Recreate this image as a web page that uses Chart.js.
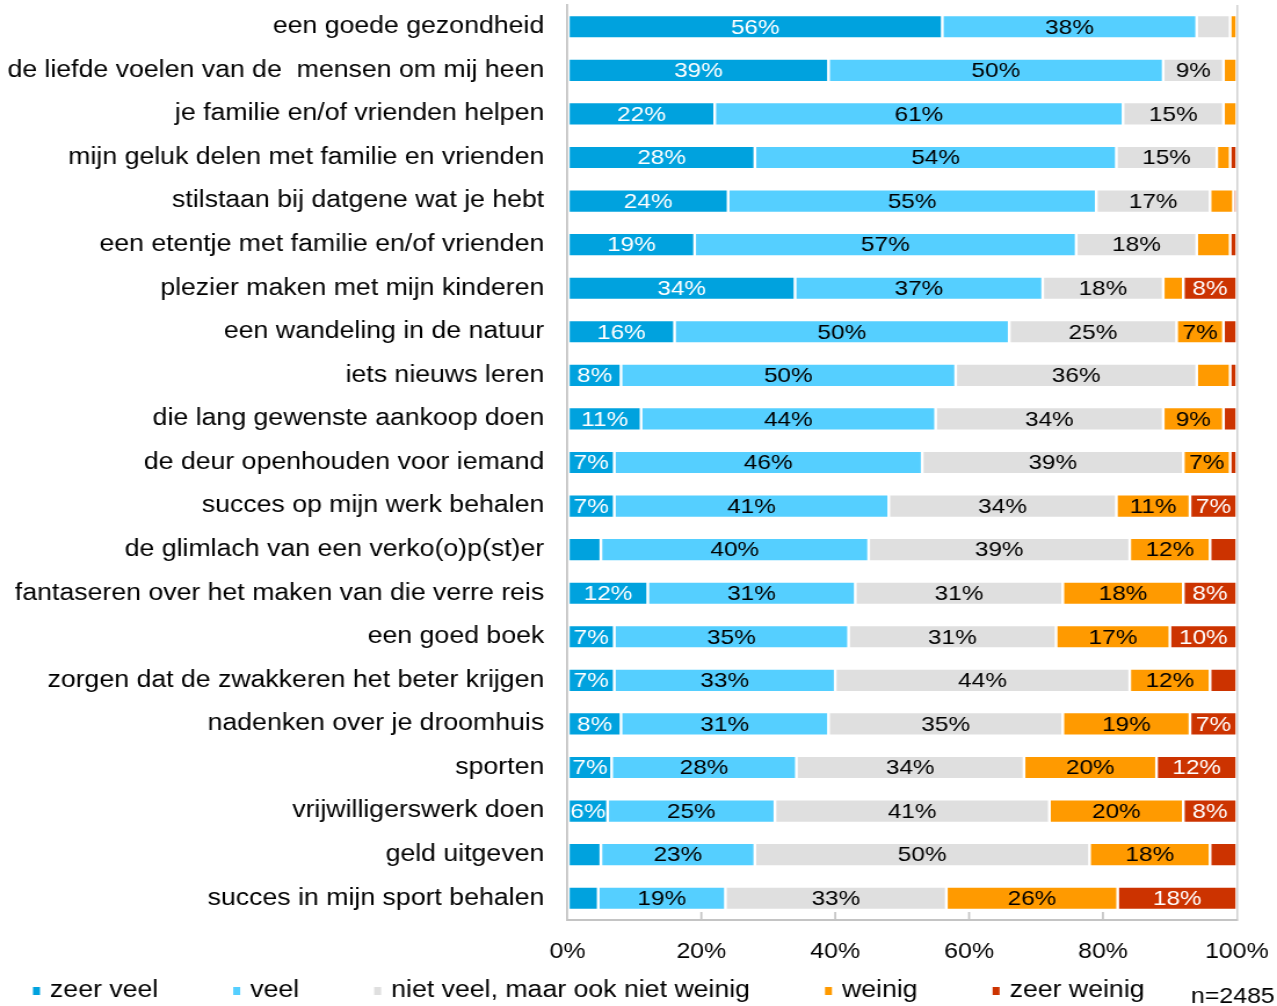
<!DOCTYPE html>
<html>
<head>
<meta charset="utf-8">
<script src="https://cdn.jsdelivr.net/npm/chart.js@4/dist/chart.umd.min.js"></script>
<style>
  html, body { margin: 0; padding: 0; background: #fff; }
  #chart { display: block; }
</style>
</head>
<body>
<canvas id="chart"></canvas>
<script>
const categories = [
  "een goede gezondheid",
  "de liefde voelen van de  mensen om mij heen",
  "je familie en/of vrienden helpen",
  "mijn geluk delen met familie en vrienden",
  "stilstaan bij datgene wat je hebt",
  "een etentje met familie en/of vrienden",
  "plezier maken met mijn kinderen",
  "een wandeling in de natuur",
  "iets nieuws leren",
  "die lang gewenste aankoop doen",
  "de deur openhouden voor iemand",
  "succes op mijn werk behalen",
  "de glimlach van een verko(o)p(st)er",
  "fantaseren over het maken van die verre reis",
  "een goed boek",
  "zorgen dat de zwakkeren het beter krijgen",
  "nadenken over je droomhuis",
  "sporten",
  "vrijwilligerswerk doen",
  "geld uitgeven",
  "succes in mijn sport behalen",
];

const zeerVeel   = [56, 39, 22, 28, 24, 19, 34, 16, 8, 11, 7, 7, 5, 12, 7, 7, 8, 6.6, 6, 5, 4.6];
const veel       = [38, 50, 61, 54, 55, 57, 37, 50, 50, 44, 46, 41, 40, 31, 35, 33, 31, 27.6, 25, 23, 19];
const nietVeel   = [5, 9, 15, 15, 17, 18, 18, 25, 36, 34, 39, 34, 39, 31, 31, 44, 35, 34, 41, 50, 33];
const weinig     = [1, 2, 2, 2, 3.5, 5, 3, 7, 5, 9, 7, 11, 12, 18, 17, 12, 19, 19.8, 20, 18, 25.6];
const zeerWeinig = [0, 0, 0, 1, 0.5, 1, 8, 2, 1, 2, 1, 7, 4, 8, 10, 4, 7, 12, 8, 4, 17.8];

const seriesNames = ["zeer veel", "veel", "niet veel, maar ook niet weinig", "weinig", "zeer weinig"];
const seriesValues = [zeerVeel, veel, nietVeel, weinig, zeerWeinig];
const xTicks = [0, 20, 40, 60, 80, 100];
const sampleSize = "n=2485";

const seriesColors = ["#00A2DE", "#55CFFF", "#DFDFDF", "#FF9A00", "#CC3300"];
const labelColors = ["#fff", "#000", "#000", "#000", "#fff"];

// the reference picture is stretched sideways, so draw narrower and stretch the canvas
const SX = 1.16;
const W = Math.round(1277 / SX);
const canvas = document.getElementById("chart");
canvas.width = W;
canvas.height = 1006;
canvas.style.width = "1277px";
canvas.style.height = "1006px";

const FONT = '"Liberation Sans", Arial, Helvetica, sans-serif';
const axisColor = "#C4C4C4";
Chart.defaults.font.family = FONT;
Chart.defaults.color = "#000";

const valueLabels = {
  id: "valueLabels",
  afterDatasetsDraw(chart) {
    const ctx = chart.ctx;
    ctx.save();
    ctx.font = `21px ${FONT}`;
    ctx.textAlign = "center";
    ctx.textBaseline = "middle";
    chart.data.datasets.forEach((ds, i) => {
      chart.getDatasetMeta(i).data.forEach((bar, j) => {
        const v = Math.round(ds.data[j]);
        if (v < 6) return;
        const c = bar.getCenterPoint();
        ctx.fillStyle = labelColors[i];
        ctx.fillText(v + "%", c.x, c.y + 1);
      });
    });
    ctx.restore();
  },
};

const innerTicks = {
  id: "innerTicks",
  afterDraw(chart) {
    const s = chart.scales.x;
    const ctx = chart.ctx;
    ctx.save();
    ctx.strokeStyle = axisColor;
    ctx.lineWidth = 1.7;
    xTicks.slice(1, -1).forEach((v) => {
      const px = s.getPixelForValue(v);
      ctx.beginPath();
      ctx.moveTo(px, s.top);
      ctx.lineTo(px, s.top - 8);
      ctx.stroke();
    });
    ctx.restore();
  },
};

const bottomLegend = {
  id: "bottomLegend",
  afterDraw(chart) {
    const ctx = chart.ctx;
    ctx.save();
    ctx.font = `23px ${FONT}`;
    ctx.textBaseline = "middle";
    let x = 33 / SX;
    const y = 991;
    chart.data.datasets.forEach((ds) => {
      ctx.fillStyle = ds.backgroundColor;
      ctx.fillRect(x, y - 4, 6, 8);
      ctx.fillStyle = "#000";
      ctx.fillText(ds.label, x + 17 / SX, y);
      x += 17 / SX + ctx.measureText(ds.label).width + 75 / SX;
    });
    ctx.font = `21.5px ${FONT}`;
    ctx.fillText(sampleSize, 1191 / SX, 997);
    ctx.restore();
  },
};

new Chart(canvas, {
  type: "bar",
  data: {
    labels: categories,
    datasets: seriesNames.map((name, i) => ({
      label: name,
      data: seriesValues[i],
      backgroundColor: seriesColors[i],
      borderColor: "#fff",
      borderWidth: 1.2,
      borderSkipped: false,
      barPercentage: 0.54,
      categoryPercentage: 1,
    })),
  },
  options: {
    indexAxis: "y",
    responsive: false,
    animation: false,
    devicePixelRatio: 1,
    layout: { padding: { top: 5, right: W - 1237 / SX, bottom: 40, left: 0 } },
    plugins: {
      legend: { display: false },
      tooltip: { enabled: false },
    },
    scales: {
      x: {
        stacked: true,
        min: 0,
        max: 100,
        afterBuildTicks: (scale) => {
          scale.ticks = xTicks.map((v) => ({ value: v }));
        },
        afterFit: (scale) => {
          scale.height = 46;
          scale.paddingLeft = 0;
          scale.paddingRight = 0;
        },
        ticks: {
          font: { size: 21.5 },
          color: "#000",
          padding: 19,
          callback: (v) => v + "%",
        },
        grid: {
          drawTicks: false,
          lineWidth: 1.5,
          color: (c) => (c.tick && c.tick.value === 100 ? "#D0D0D0" : "transparent"),
        },
        border: { display: true, color: axisColor, width: 2 },
      },
      y: {
        stacked: true,
        afterFit: (scale) => {
          scale.width = 567.5 / SX;
          scale.paddingTop = 0;
          scale.paddingBottom = 0;
        },
        ticks: {
          font: { size: 23 },
          color: "#000",
          padding: 20,
          autoSkip: false,
        },
        grid: { display: false, drawTicks: false },
        border: { display: true, color: axisColor, width: 1.8 },
      },
    },
  },
  plugins: [valueLabels, innerTicks, bottomLegend],
});
</script>
</body>
</html>
